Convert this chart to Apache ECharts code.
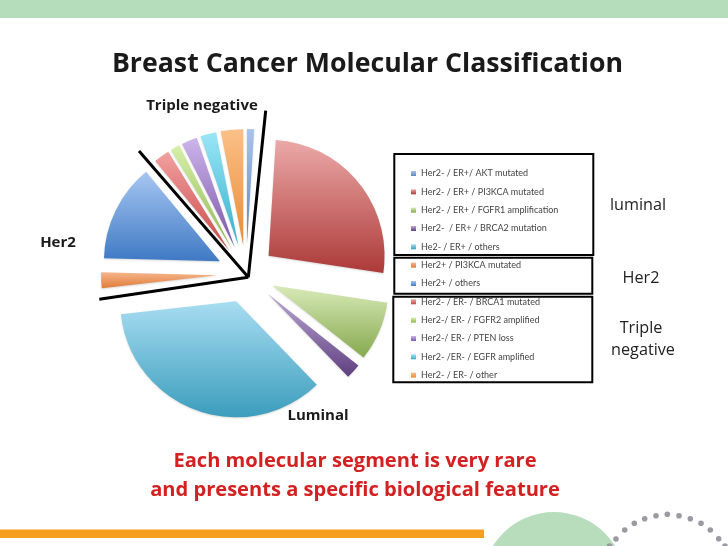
<!DOCTYPE html>
<html><head><meta charset="utf-8">
<style>html,body{margin:0;padding:0;background:#fff}#c{width:728px;height:546px}</style>
<script src="https://cdn.jsdelivr.net/npm/echarts@6/dist/echarts.min.js"></script>
</head><body><div id="c"></div>
<script>
const categories = [
 'Her2- / ER+/ AKT mutated','Her2- / ER+ / PI3KCA mutated','Her2- / ER+ / FGFR1 amplification',
 'Her2-  / ER+ / BRCA2 mutation','He2- / ER+ / others','Her2+ / PI3KCA mutated','Her2+ / others',
 'Her2- / ER- / BRCA1 mutated','Her2-/ ER- / FGFR2 amplified','Her2-/ ER- / PTEN loss',
 'Her2- /ER- / EGFR amplified','Her2- / ER- / other'];
const shares = [1.0,26.4,8.3,2.1,35.5,2.2,13.6,2.2,1.3,2.2,2.2,3.1];
const topColors = ['#A9C4EC','#EBA9A8','#D8EAB8','#BDA9D2','#A8DDF2','#F6B68C','#A6C6F2','#F2A0A0','#D6EFA8','#CDB5EA','#9AE6F6','#FBC088'];
const bottomColors = ['#5F86BC','#AC3A38','#86A94E','#5E3F80','#3B9DBC','#E07C3A','#3F79C4','#C84A48','#90B850','#7A55A8','#35B0CC','#E88C34'];
const font='"Open Sans"';
const chart = echarts.init(document.getElementById('c'),null,{renderer:'canvas'});
const grad=(a,b)=>new echarts.graphic.LinearGradient(0,0,0,1,[{offset:0,color:a},{offset:1,color:b}]);
const T=(text,x,y,size,weight,fill,align)=>({type:'text',z:5,style:{text,x,y,font:`${weight} ${size}px ${font}`,fill,align:align||'center',verticalAlign:'middle'}});
const L=(x1,y1,x2,y2)=>({type:'line',z:6,shape:{x1,y1,x2,y2},style:{stroke:'#000',lineWidth:3}});
const B=(x,y,w,h)=>({type:'rect',z:4,shape:{x,y,width:w,height:h},style:{fill:'none',stroke:'#000',lineWidth:2}});
const dots=[[609.5,546],[616,539],[624.7,530],[634.3,523.3],[644.7,518.7],[656,515.7],[667.3,514.3],[679,515.7],[690.3,518.7],[701,523.3],[710.3,530],[718.7,538.7],[725,546]]
 .map(d=>({type:'circle',z:3,shape:{cx:d[0],cy:d[1],r:2.8},style:{fill:'#9A9AA2'}}));
chart.setOption({
 animation:false,
 backgroundColor:'#fff',
 title:{text:'Breast Cancer Molecular Classification',left:362.5,top:46,textAlign:'center',
  textStyle:{fontFamily:'Open Sans',fontWeight:'bold',fontSize:26.7,color:'#1a1a1a'}},
 legend:{orient:'vertical',left:406,top:164,itemWidth:5,itemHeight:5,itemGap:9.33,selectedMode:false,
  icon:'rect',textStyle:{fontFamily:'Lato',fontSize:9,color:'#444'}},
 series:[{type:'pie',center:[246,274],radius:[0,116],startAngle:90,clockwise:true,
  selectedMode:'multiple',selectedOffset:29,silent:true,minAngle:0,avoidLabelOverlap:false,
  label:{show:false},labelLine:{show:false},
  itemStyle:{borderWidth:0,shadowBlur:2,shadowColor:'rgba(0,0,0,0.15)',shadowOffsetY:1},
  data:categories.map((name,i)=>({name,value:shares[i],selected:true,
    itemStyle:{color:grad(topColors[i],bottomColors[i])}}))}],
 graphic:[
  {type:'rect',z:1,shape:{x:0,y:0,width:728,height:18},style:{fill:'#B5DCBB'}},
  {type:'rect',z:1,shape:{x:0,y:529.5,width:484,height:8.5},style:{fill:'#F79F1F'}},
  {type:'circle',z:1,shape:{cx:554,cy:583.7,r:71.7},style:{fill:'#B7DDBD'}},
  ...dots,
  B(394.3,154,199,101),B(394.3,257.7,198,36),B(393.3,296.7,199,85.6),
  L(248.3,277.3,265.7,110.7),L(248.3,277.3,139,151),L(248.3,277.3,99.3,299.3),
  T('Triple negative',202,105.5,15,'bold','#1a1a1a'),
  T('Her2',58,242.5,15,'bold','#1a1a1a'),
  T('Luminal',318,415.5,15,'bold','#1a1a1a'),
  T('Each molecular segment is very rare',355,461,20.1,'bold','#D42020'),
  T('and presents a specific biological feature',355,490,20.1,'bold','#D42020'),
  T('luminal',638,205.5,16.2,'normal','#222'),
  T('Her2',641,278.5,16.2,'normal','#222'),
  T('Triple',641,328.5,16.2,'normal','#222'),
  T('negative',643,350.5,16.2,'normal','#222')
 ]
});
</script></body></html>
